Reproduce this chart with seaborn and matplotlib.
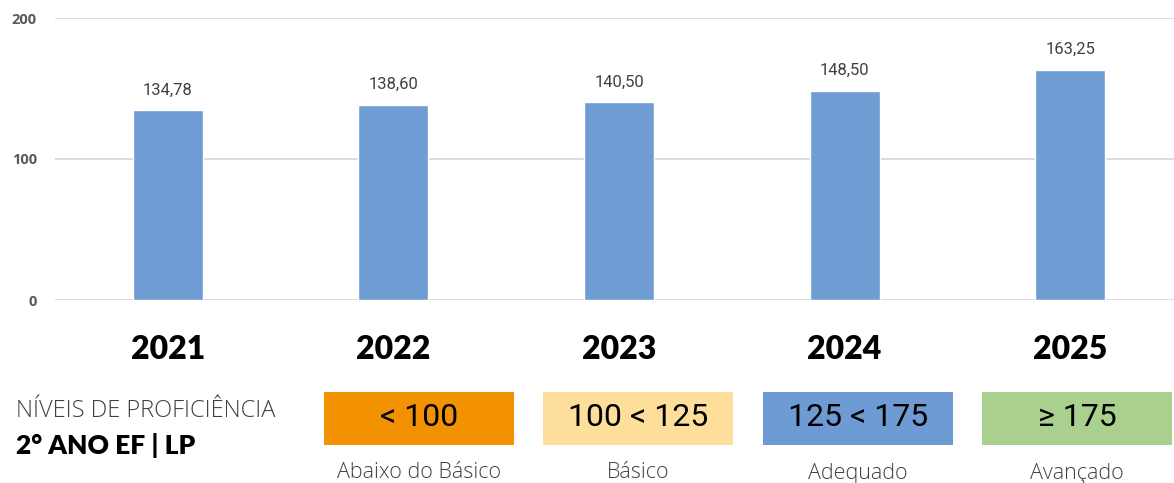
import matplotlib
matplotlib.use("Agg")
import matplotlib.pyplot as plt
import seaborn as sns
import pandas as pd
from matplotlib.patches import Rectangle

years = ["2021", "2022", "2023", "2024", "2025"]
scores = [134.78, 138.60, 140.50, 148.50, 163.25]
yticks = [0, 100, 200]

level_ranges = ["< 100", "100 < 125", "125 < 175", "≥ 175"]
level_names = ["Abaixo do Básico", "Básico", "Adequado", "Avançado"]
level_colors = ["#F39200", "#FDDF9B", "#6E9BD3", "#A9D08E"]

sns.set_theme(style="white")
plt.rcParams['font.family'] = ['Open Sans', 'DejaVu Sans']

W, H = 1174, 483
fig = plt.figure(figsize=(W/100, H/100), dpi=100)
ax = fig.add_axes([55/W, 1-300/H, 1-55/W, (300-18)/H])

df = pd.DataFrame({"ano": years, "nota": scores})
sns.barplot(data=df, x="ano", y="nota", color="#6F9CD3", width=0.31, saturation=1, ax=ax)

ax.set_ylim(0, 200)
ax.set_xlim(-0.5, 4.46)
ax.set_yticks(yticks)
ax.yaxis.grid(True, color="#D9D9D9", linewidth=1.3)
ax.set_axisbelow(True)
for s in ax.spines.values():
    s.set_visible(False)
ax.set_xlabel("")
ax.set_ylabel("")
ax.tick_params(axis='y', length=0, pad=13, labelsize=10.5, labelcolor="#595959")
for t in ax.get_yticklabels():
    t.set_fontweight("bold")
ax.tick_params(axis='x', length=0, pad=25, labelsize=23, labelcolor="black")
for t in ax.get_xticklabels():
    t.set_fontweight("heavy")
    t.set_family(["Lato", "DejaVu Sans"])

for i, v in enumerate(scores):
    ax.annotate(f"{v:.2f}".replace(".", ","), (i, v), xytext=(0, 9), textcoords="offset points",
                ha="center", va="bottom", fontsize=12, color="#404040", family=["Roboto", "DejaVu Sans"])

# legend boxes
box_lefts = [324, 543, 763, 982]
for x0, rng, name, col in zip(box_lefts, level_ranges, level_names, level_colors):
    fig.patches.append(Rectangle((x0/W, 1-445/H), 190/W, 53/H, transform=fig.transFigure,
                                 facecolor=col, edgecolor="none"))
    fig.text((x0+95)/W, 1-418/H, rng, ha="center", va="center", fontsize=23, color="black",
             family=["Roboto", "DejaVu Sans"])
    fig.text((x0+95)/W, 1-473/H, name, ha="center", va="center", fontsize=15.5, color="#404040",
             family=["Open Sans", "DejaVu Sans"], fontweight="light")

fig.text(16/W, 1-411/H, "NÍVEIS DE PROFICIÊNCIA", ha="left", va="center", fontsize=17,
         color="#404040", fontweight="light", family=["Open Sans", "DejaVu Sans"])
fig.text(16/W, 1-445/H, "2° ANO EF | LP", ha="left", va="center", fontsize=19,
         color="black", fontweight="heavy", family=["Lato", "DejaVu Sans"])

fig.savefig("out.png", dpi=100)
